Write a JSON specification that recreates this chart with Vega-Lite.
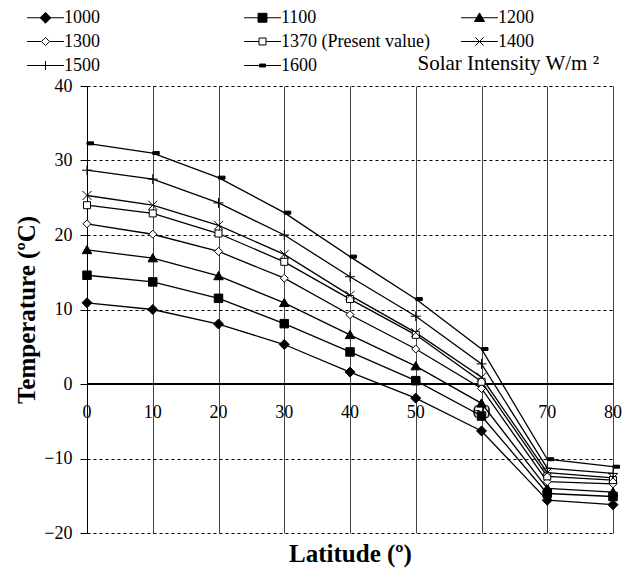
{
"$schema": "https://vega.github.io/schema/vega-lite/v6.json",
"width": 526, "height": 447,
"autosize": {"type": "none"},
"padding": {"left": 87, "top": 86, "right": 19, "bottom": 40},
"background": "white",
"title": {"text": "Solar Intensity W/m ²", "orient": "top", "anchor": "end", "frame": "group", "font": "Liberation Serif", "fontSize": 21, "fontWeight": "normal", "color": "black", "baseline": "alphabetic", "offset": -86, "dx": -14},
"data": {"values": [
{"lat":0,"s":"1000","t":10.9},{"lat":10,"s":"1000","t":10.0},{"lat":20,"s":"1000","t":8.05},{"lat":30,"s":"1000","t":5.3},{"lat":40,"s":"1000","t":1.6},{"lat":50,"s":"1000","t":-1.9},{"lat":60,"s":"1000","t":-6.3},{"lat":70,"s":"1000","t":-15.6},{"lat":80,"s":"1000","t":-16.2},
{"lat":0,"s":"1100","t":14.6},{"lat":10,"s":"1100","t":13.7},{"lat":20,"s":"1100","t":11.5},{"lat":30,"s":"1100","t":8.1},{"lat":40,"s":"1100","t":4.3},{"lat":50,"s":"1100","t":0.45},{"lat":60,"s":"1100","t":-4.3},{"lat":70,"s":"1100","t":-14.7},{"lat":80,"s":"1100","t":-15.1},
{"lat":0,"s":"1200","t":18.0},{"lat":10,"s":"1200","t":16.9},{"lat":20,"s":"1200","t":14.5},{"lat":30,"s":"1200","t":10.9},{"lat":40,"s":"1200","t":6.6},{"lat":50,"s":"1200","t":2.4},{"lat":60,"s":"1200","t":-2.6},{"lat":70,"s":"1200","t":-14.0},{"lat":80,"s":"1200","t":-14.5},
{"lat":0,"s":"1300","t":21.5},{"lat":10,"s":"1300","t":20.1},{"lat":20,"s":"1300","t":17.8},{"lat":30,"s":"1300","t":14.2},{"lat":40,"s":"1300","t":9.3},{"lat":50,"s":"1300","t":4.7},{"lat":60,"s":"1300","t":-0.6},{"lat":70,"s":"1300","t":-13.1},{"lat":80,"s":"1300","t":-13.4},
{"lat":0,"s":"1370 (Present value)","t":24.0},{"lat":10,"s":"1370 (Present value)","t":22.9},{"lat":20,"s":"1370 (Present value)","t":20.2},{"lat":30,"s":"1370 (Present value)","t":16.4},{"lat":40,"s":"1370 (Present value)","t":11.4},{"lat":50,"s":"1370 (Present value)","t":6.6},{"lat":60,"s":"1370 (Present value)","t":0.3},{"lat":70,"s":"1370 (Present value)","t":-12.4},{"lat":80,"s":"1370 (Present value)","t":-12.9},
{"lat":0,"s":"1400","t":25.3},{"lat":10,"s":"1400","t":24.0},{"lat":20,"s":"1400","t":21.3},{"lat":30,"s":"1400","t":17.4},{"lat":40,"s":"1400","t":11.9},{"lat":50,"s":"1400","t":6.9},{"lat":60,"s":"1400","t":0.9},{"lat":70,"s":"1400","t":-11.9},{"lat":80,"s":"1400","t":-12.6},
{"lat":0,"s":"1500","t":28.7},{"lat":10,"s":"1500","t":27.5},{"lat":20,"s":"1500","t":24.3},{"lat":30,"s":"1500","t":20.0},{"lat":40,"s":"1500","t":14.4},{"lat":50,"s":"1500","t":9.1},{"lat":60,"s":"1500","t":2.7},{"lat":70,"s":"1500","t":-11.3},{"lat":80,"s":"1500","t":-12.0},
{"lat":0,"s":"1600","t":32.3},{"lat":10,"s":"1600","t":31.0},{"lat":20,"s":"1600","t":27.7},{"lat":30,"s":"1600","t":23.0},{"lat":40,"s":"1600","t":17.1},{"lat":50,"s":"1600","t":11.4},{"lat":60,"s":"1600","t":4.7},{"lat":70,"s":"1600","t":-10.1},{"lat":80,"s":"1600","t":-11.1}
]},
"config": {
  "view": {"stroke": null},
  "font": "Liberation Serif",
  "axisX": {"grid": true, "gridColor": "#444", "gridWidth": 1, "gridOpacity": 1, "domain": false, "ticks": false, "labels": false, "tickCount": 8, "titleFont": "Liberation Serif", "titleFontSize": 25, "titleFontWeight": "bold", "titleColor": "black", "titlePadding": 8},
  "axisY": {"grid": true, "gridColor": "black", "gridDash": [3,3], "gridWidth": 1, "gridOpacity": 1, "domain": true, "domainColor": "black", "domainWidth": 1, "ticks": true, "tickColor": "black", "tickSize": 7, "tickCount": 6, "labelFontSize": 18, "labelFont": "Liberation Serif", "labelColor": "black", "labelPadding": 8, "titleFontSize": 25, "titleFontWeight": "bold", "titleFont": "Liberation Serif", "titleColor": "black", "titlePadding": 4},
  "legend": {"title": null, "orient": "none", "legendX": -54, "legendY": -81, "columns": 3, "direction": "horizontal", "gridAlign": "all", "columnPadding": 29, "rowPadding": 2, "symbolSize": 576, "symbolStrokeColor": "black", "symbolStrokeWidth": 1, "symbolOpacity": 1, "labelFont": "Liberation Serif", "labelFontSize": 18, "labelColor": "black", "labelOffset": 6, "labelLimit": 300, "padding": 0}
},
"layer": [
  {"mark": {"type": "line", "color": "black", "strokeWidth": 1.3},
   "encoding": {
     "x": {"field": "lat", "type": "quantitative", "scale": {"domain": [0,80], "nice": false}, "title": "Latitude (º)"},
     "y": {"field": "t", "type": "quantitative", "scale": {"domain": [-20,40], "nice": false}, "title": "Temperature (ºC)"},
     "detail": {"field": "s"}}},
  {"mark": {"type": "rule", "color": "black", "strokeWidth": 1},
   "encoding": {"y": {"datum": 0, "type": "quantitative", "title": "Temperature (ºC)"}}},
  {"transform": [{"filter": {"field": "s", "equal": "1000"}}],
   "mark": {"type": "text", "font": "Liberation Serif", "fontSize": 18, "color": "black", "baseline": "middle", "align": "center", "dy": 29},
   "encoding": {
     "x": {"field": "lat", "type": "quantitative", "title": "Latitude (º)"},
     "y": {"datum": 0, "type": "quantitative", "title": "Temperature (ºC)"},
     "text": {"field": "lat", "type": "quantitative"}}},
  {"mark": {"type": "point", "filled": true, "stroke": "black", "strokeWidth": 1, "size": 100, "opacity": 1},
   "encoding": {
     "x": {"field": "lat", "type": "quantitative", "title": "Latitude (º)"},
     "y": {"field": "t", "type": "quantitative", "title": "Temperature (ºC)"},
     "shape": {"field": "s", "type": "nominal", "legend": null,
       "scale": {"domain": ["1000","1100","1200","1300","1370 (Present value)","1400","1500","1600"],
                 "range": ["M0,-1L1,0L0,1L-1,0Z", "M-0.85,-0.85H0.85V0.85H-0.85Z", "M0,-0.9L0.95,0.75H-0.95Z", "M0,-0.8L0.8,0L0,0.8L-0.8,0Z", "M-0.7,-0.7H0.7V0.7H-0.7Z", "M-0.9,-0.9L0.9,0.9M-0.9,0.9L0.9,-0.9", "M-1,0H1M0,-1V1", "M0,-0.3H1.3V0.3H0Z"]}},
     "fill": {"field": "s", "type": "nominal", "legend": null,
       "scale": {"domain": ["1000","1100","1200","1300","1370 (Present value)","1400","1500","1600"],
                 "range": ["black","black","black","white","white","black","black","black"]}}}},
  {"mark": {"type": "point", "filled": true, "stroke": "black", "strokeWidth": 1, "size": 100, "opacity": 0},
   "encoding": {
     "x": {"field": "lat", "type": "quantitative", "title": "Latitude (º)"},
     "y": {"field": "t", "type": "quantitative", "title": "Temperature (ºC)"},
     "shape": {"field": "s", "type": "nominal",
       "scale": {"domain": ["1000","1100","1200","1300","1370 (Present value)","1400","1500","1600"],
                 "range": ["M-1.54,0H1.54M0,-0.45L0.45,0L0,0.45L-0.45,0Z", "M-1.54,0H1.54M-0.37,-0.37H0.37V0.37H-0.37Z", "M-1.54,0H1.54M0,-0.4L0.42,0.31H-0.42Z", "M-1.54,0H-0.34M0.34,0H1.54M0,-0.34L0.34,0L0,0.34L-0.34,0Z", "M-1.54,0H-0.29M0.29,0H1.54M-0.29,-0.29H0.29V0.29H-0.29Z", "M-1.54,0H1.54M-0.34,-0.34L0.34,0.34M-0.34,0.34L0.34,-0.34", "M-1.54,0H1.54M0,-0.37V0.37", "M-1.54,0H1.54M-0.25,-0.12H0.25V0.12H-0.25Z"]},
       "legend": {"encode": {"symbols": {"update": {"stroke": {"value": "black"}, "strokeWidth": {"value": 1}, "opacity": {"value": 1}}}}}},
     "fill": {"field": "s", "type": "nominal",
       "scale": {"domain": ["1000","1100","1200","1300","1370 (Present value)","1400","1500","1600"],
                 "range": ["black","black","black","white","white","black","black","black"]},
       "legend": {"encode": {"symbols": {"update": {"stroke": {"value": "black"}, "strokeWidth": {"value": 1}, "opacity": {"value": 1}}}}}}}}
],
"resolve": {"scale": {"shape": "independent", "fill": "independent"}}
}
